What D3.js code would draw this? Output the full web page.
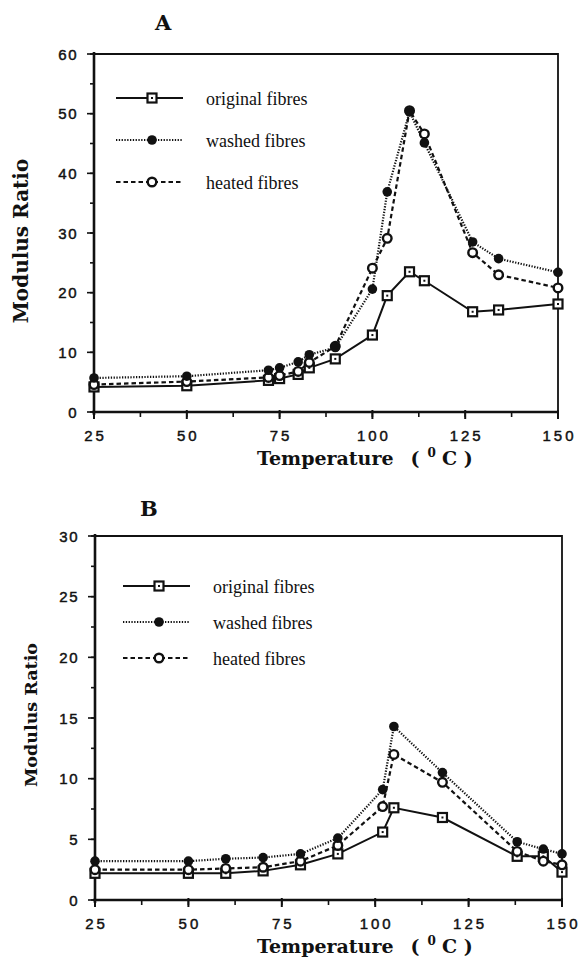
<!DOCTYPE html>
<html>
<head>
<meta charset="utf-8">
<title>Modulus Ratio</title>
<script src="https://d3js.org/d3.v7.min.js"></script>
<style>
body { margin: 0; background: #fff; }
.tick-lab { font-family: "Liberation Sans", Arial, sans-serif; font-size: 15px; fill: #111; stroke: #111; stroke-width: 0.45px; }
.ttl { font-family: "DejaVu Serif", "Liberation Serif", serif; font-weight: bold; fill: #111; }
.leg { font-family: "Liberation Serif", "Times New Roman", serif; font-size: 18px; fill: #111; }
</style>
</head>
<body>
<script>
// ---- data ----
var seriesNames = ["original fibres", "washed fibres", "heated fibres"];

// panel A
var tempA = [25, 50, 72, 75, 80, 83, 90, 100, 104, 110, 114, 127, 134, 150];
var origA   = [4.2, 4.4, 5.3, 5.6, 6.3, 7.4, 8.9, 12.9, 19.5, 23.5, 22.0, 16.8, 17.1, 18.1];
var washedA = [5.7, 6.0, 7.0, 7.4, 8.4, 9.6, 10.8, 20.6, 36.9, 50.3, 45.1, 28.5, 25.7, 23.4];
var heatedA = [4.6, 5.1, 5.8, 6.1, 6.8, 8.3, 11.0, 24.1, 29.1, 50.5, 46.6, 26.7, 23.0, 20.8];

// panel B
var tempB = [25, 50, 60, 70, 80, 90, 102, 105, 118, 138, 145, 150];
var origB   = [2.2, 2.2, 2.2, 2.4, 2.9, 3.8, 5.6, 7.6, 6.8, 3.6, 3.6, 2.3];
var washedB = [3.2, 3.2, 3.4, 3.5, 3.8, 5.1, 9.1, 14.3, 10.5, 4.8, 4.2, 3.8];
var heatedB = [2.5, 2.5, 2.6, 2.7, 3.2, 4.5, 7.7, 12.0, 9.7, 4.0, 3.2, 2.9];

var xTicks = [25, 50, 75, 100, 125, 150];
var yTicksA = [0, 10, 20, 30, 40, 50, 60];
var yTicksB = [0, 5, 10, 15, 20, 25, 30];

var W = 579, H = 962;
var svg = d3.select("body").append("svg").attr("width", W).attr("height", H);

var styles = [
  {dash: null, width: 2, marker: "square"},
  {dash: "1.3,1.5", width: 2.2, marker: "filled"},
  {dash: "4.5,3", width: 2.2, marker: "open"}
];

// spread digits apart without trailing space
function spacedDx(d) {
  return String(d).split("").map(function(c, i){ return i == 0 ? 0 : 3; }).join(" ");
}

function drawPanel(cfg) {
  var g = svg.append("g");
  var x = d3.scaleLinear().domain([25, 150]).range([cfg.x0, cfg.x1]);
  var y = d3.scaleLinear().domain([0, cfg.ymax]).range([cfg.y0, cfg.y1]);

  // frame (top and right)
  g.append("path")
    .attr("d", "M" + x(25) + "," + y(cfg.ymax) + "H" + x(150) + "V" + y(0))
    .attr("fill", "none").attr("stroke", "#111").attr("stroke-width", 1.8);

  // y axis
  var yMinor = d3.range(0, cfg.ymax + 0.001, cfg.yStep / 2);
  g.selectAll(".ymin").data(yMinor).enter().append("line")
    .attr("x1", x(25) - 4).attr("x2", x(25))
    .attr("y1", function(d){ return y(d); }).attr("y2", function(d){ return y(d); })
    .attr("stroke", "#111").attr("stroke-width", 1.6);
  g.selectAll(".ymaj").data(cfg.yTicks).enter().append("line")
    .attr("x1", x(25) - 7).attr("x2", x(25))
    .attr("y1", function(d){ return y(d); }).attr("y2", function(d){ return y(d); })
    .attr("stroke", "#111").attr("stroke-width", 1.6);
  g.selectAll(".ylab").data(cfg.yTicks).enter().append("text")
    .attr("class", "tick-lab")
    .attr("x", x(25) - 16).attr("y", function(d){ return y(d) + 5.5; })
    .attr("text-anchor", "end").attr("letter-spacing", "1.5px")
    .text(function(d){ return d; });

  // x axis
  var xMinor = d3.range(25, 150.001, 12.5);
  g.selectAll(".xmin").data(xMinor).enter().append("line")
    .attr("x1", function(d){ return x(d); }).attr("x2", function(d){ return x(d); })
    .attr("y1", y(0)).attr("y2", y(0) + 5)
    .attr("stroke", "#111").attr("stroke-width", 1.6);
  g.selectAll(".xmaj").data(xTicks).enter().append("line")
    .attr("x1", function(d){ return x(d); }).attr("x2", function(d){ return x(d); })
    .attr("y1", y(0) - 2).attr("y2", y(0) + 7)
    .attr("stroke", "#111").attr("stroke-width", 2);
  g.selectAll(".xlab").data(xTicks).enter().append("text")
    .attr("class", "tick-lab")
    .attr("x", function(d){ return x(d); }).attr("y", y(0) + 29)
    .attr("dx", spacedDx)
    .attr("text-anchor", "middle")
    .text(function(d){ return d; });

  g.append("line").attr("x1", x(25)).attr("x2", x(25))
    .attr("y1", y(cfg.ymax) - 2).attr("y2", y(0) + 3)
    .attr("stroke", "#111").attr("stroke-width", 2.6);
  g.append("line").attr("x1", x(25) - 2).attr("x2", x(150))
    .attr("y1", y(0)).attr("y2", y(0))
    .attr("stroke", "#111").attr("stroke-width", 2.6);

  // series
  var line = d3.line().x(function(d){ return x(d[0]); }).y(function(d){ return y(d[1]); });
  var order = [0, 2, 1];
  order.forEach(function(i) {
    var pts = cfg.temps.map(function(t, k){ return [t, cfg.series[i][k]]; });
    g.append("path").datum(pts).attr("d", line)
      .attr("fill", "none").attr("stroke", "#111")
      .attr("stroke-width", styles[i].width)
      .attr("stroke-dasharray", styles[i].dash);
  });
  order.forEach(function(i) {
    var pts = cfg.temps.map(function(t, k){ return [t, cfg.series[i][k]]; });
    drawMarkers(g, pts.map(function(p){ return [x(p[0]), y(p[1])]; }), styles[i].marker);
  });

  // legend
  seriesNames.forEach(function(name, i) {
    var ly = cfg.legY + i * cfg.legGap;
    g.append("line").attr("x1", cfg.legX).attr("x2", cfg.legX + 67)
      .attr("y1", ly).attr("y2", ly)
      .attr("stroke", "#111").attr("stroke-width", i == 0 ? 2 : 1.8)
      .attr("stroke-dasharray", styles[i].dash);
    drawMarkers(g, [[cfg.legX + 36, ly]], styles[i].marker);
    g.append("text").attr("class", "leg")
      .attr("x", cfg.legX + 90).attr("y", ly + 7).text(name);
  });

  // titles
  g.append("text").attr("class", "ttl").attr("font-size", 21)
    .attr("x", cfg.letterX).attr("y", cfg.letterY).text(cfg.letter);
  g.append("text").attr("class", "ttl").attr("font-size", cfg.yLabSize)
    .attr("transform", "translate(" + cfg.yLabX + "," + cfg.yLabY + ") rotate(-90)")
    .attr("text-anchor", "middle").text("Modulus Ratio");
  var xt = g.append("text").attr("class", "ttl").attr("font-size", 19)
    .attr("x", 257).attr("y", y(0) + 53);
  xt.append("tspan").text("Temperature");
  xt.append("tspan").attr("dx", 17).text("(");
  xt.append("tspan").attr("font-size", 12).attr("dx", 8).attr("dy", -8).text("0");
  xt.append("tspan").attr("dx", 6).attr("dy", 8).text("C )");
}

function drawMarkers(g, pts, kind) {
  pts.forEach(function(p) {
    if (kind == "square") {
      g.append("rect").attr("x", p[0] - 4.5).attr("y", p[1] - 4.5)
        .attr("width", 9).attr("height", 9)
        .attr("fill", "#fff").attr("stroke", "#111").attr("stroke-width", 2.2);
      g.append("rect").attr("x", p[0] - 1).attr("y", p[1] - 1)
        .attr("width", 2).attr("height", 2).attr("fill", "#111");
    } else if (kind == "filled") {
      g.append("circle").attr("cx", p[0]).attr("cy", p[1]).attr("r", 4.8)
        .attr("fill", "#111");
    } else {
      g.append("circle").attr("cx", p[0]).attr("cy", p[1]).attr("r", 4.3)
        .attr("fill", "#fff").attr("stroke", "#111").attr("stroke-width", 2.4);
    }
  });
}

drawPanel({
  letter: "A", letterX: 155, letterY: 30,
  x0: 94, x1: 558, y0: 412, y1: 54, ymax: 60, yStep: 10, yTicks: yTicksA,
  temps: tempA, series: [origA, washedA, heatedA],
  legX: 116, legY: 98, legGap: 42, yLabX: 28, yLabY: 241, yLabSize: 20
});
drawPanel({
  letter: "B", letterX: 140, letterY: 516,
  x0: 95, x1: 562, y0: 900, y1: 536, ymax: 30, yStep: 5, yTicks: yTicksB,
  temps: tempB, series: [origB, washedB, heatedB],
  legX: 123, legY: 586, legGap: 36, yLabX: 37, yLabY: 715, yLabSize: 17.5
});
</script>
</body>
</html>
